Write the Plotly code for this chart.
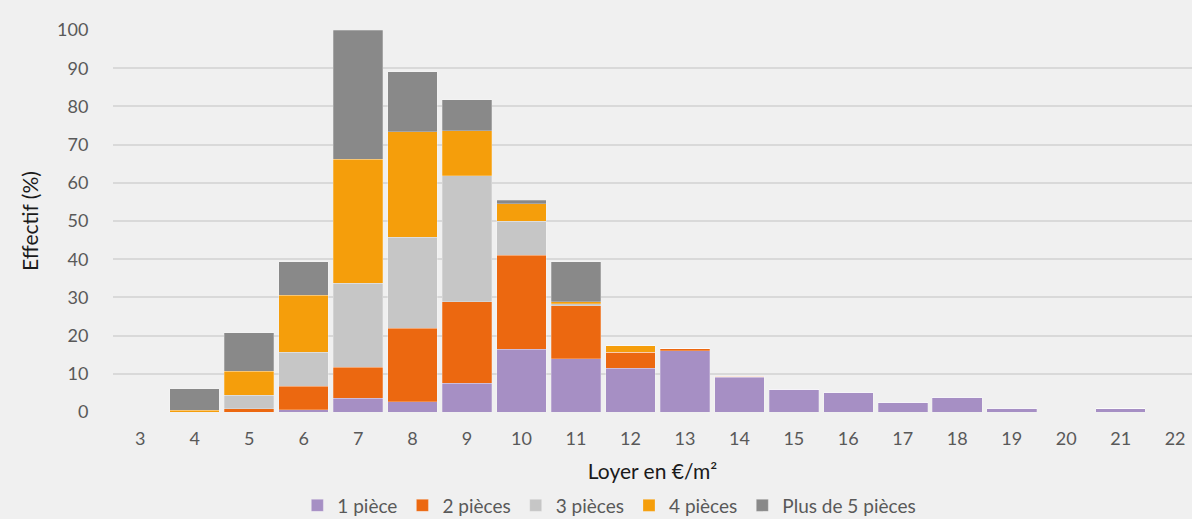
import plotly.graph_objects as go

categories = [3, 4, 5, 6, 7, 8, 9, 10, 11, 12, 13, 14, 15, 16, 17, 18, 19, 20, 21, 22]
series_names = ["1 pièce", "2 pièces", "3 pièces", "4 pièces", "Plus de 5 pièces"]
p1 = [0, 0, 0, 0.6, 3.6, 2.7, 7.5, 16.4, 14.0, 11.5, 16.1, 9.1, 5.9, 5.2, 2.5, 3.8, 1.0, 0, 0.8, 0]
p2 = [0, 0, 0.8, 6.1, 8.1, 19.2, 21.4, 24.7, 13.8, 4.2, 0.5, 0.3, 0, 0, 0, 0, 0, 0, 0, 0]
p3 = [0, 0, 3.6, 9.0, 22.0, 23.9, 32.9, 8.8, 0.5, 0, 0, 0, 0, 0, 0, 0, 0, 0, 0, 0]
p4 = [0, 0.4, 6.3, 14.9, 32.5, 27.5, 11.8, 4.6, 0.6, 1.6, 0, 0, 0, 0, 0, 0, 0, 0, 0, 0]
p5 = [0, 5.7, 10.1, 8.7, 33.7, 15.8, 8.1, 0.9, 10.4, 0, 0, 0, 0, 0, 0, 0, 0, 0, 0, 0]
colors = ["#a68fc4", "#ec6810", "#c6c6c6", "#f59e0b", "#898989"]
y_ticks = [0, 10, 20, 30, 40, 50, 60, 70, 80, 90, 100]

BG = "#f0f0f0"
FONT = "Lato"

fig = go.Figure()
for name, vals, col in zip(series_names, [p1, p2, p3, p4, p5], colors):
    fig.add_trace(go.Bar(
        x=categories, y=vals, name=name,
        marker=dict(color=col, line=dict(color="rgba(255,255,255,0.3)", width=0.8)),
    ))

fig.update_layout(
    width=1192, height=519,
    barmode="stack", bargap=0.09,
    paper_bgcolor=BG, plot_bgcolor=BG,
    margin=dict(l=113, r=0, t=30, b=107, autoexpand=False),
    font=dict(family=FONT, size=18, color="#595959"),
    showlegend=True,
    legend=dict(orientation="h", x=0.46, xanchor="center",
                yref="container", y=0.026, yanchor="middle",
                font=dict(family=FONT, size=19, color="#595959"),
                itemwidth=30, tracegroupgap=0, traceorder="normal",
                bgcolor="rgba(0,0,0,0)"),
    xaxis=dict(
        range=[2.5, 22.31], tickmode="array", tickvals=categories,
        showgrid=False, zeroline=False, showline=False, automargin=False,
        ticks="outside", ticklen=10, tickcolor=BG,
        title=dict(text="Loyer en €/m²", font=dict(family=FONT, size=21, color="#1a1a1a"), standoff=16),
        fixedrange=True,
    ),
    yaxis=dict(
        range=[0, 100], tickmode="array", tickvals=y_ticks,
        showgrid=True, gridcolor="#d9d9d9", gridwidth=1.5,
        zeroline=False, showline=False, automargin=False,
        ticks="outside", ticklen=20, tickcolor=BG,
        title=dict(text="Effectif (%)", font=dict(family=FONT, size=21, color="#1a1a1a"), standoff=12),
        fixedrange=True,
    ),
)

fig.write_html("out.html", config={"displayModeBar": False},
               post_script="document.body.style.margin='0';document.body.style.overflow='hidden';")
